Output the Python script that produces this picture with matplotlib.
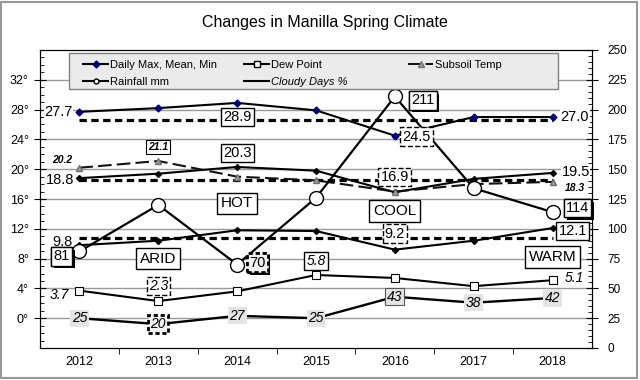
import matplotlib
matplotlib.use("Agg")
from matplotlib import pyplot as plt
from matplotlib.ticker import MultipleLocator, FixedLocator
from matplotlib.lines import Line2D
from matplotlib.patches import Rectangle
from matplotlib.legend import Legend
import matplotlib.patheffects as pe

plt.rcParams['font.family'] = ['Liberation Sans', 'DejaVu Sans']

# 数据
years = [2012, 2013, 2014, 2015, 2016, 2017, 2018]
daily_max = [27.7, 28.2, 28.9, 27.9, 24.5, 27.0, 27.0]
daily_mean = [18.8, 19.4, 20.3, 19.8, 16.9, 18.7, 19.5]
daily_min = [9.8, 10.4, 11.8, 11.7, 9.2, 10.4, 12.1]
dew_point = [3.7, 2.3, 3.6, 5.8, 5.4, 4.3, 5.1]
subsoil = [20.2, 21.1, 19.0, 18.5, 17.0, 18.0, 18.3]
rainfall = [81, 120, 70, 126, 211, 134, 114]
cloudy = [25, 20, 27, 25, 43, 38, 42]
# 长期平均
avg_max, avg_mean, avg_min = 26.6, 18.6, 10.7

fig = plt.figure(figsize=(6.4, 3.8), dpi=100)
ax = fig.add_axes([40 / 640, 1 - 348 / 380, 552 / 640, 298 / 380])
ax2 = ax.twinx()

ax.set_xlim(2011.5, 2018.5)
ax.set_ylim(-4, 36)
ax2.set_ylim(0, 250)

# 刻度
ax.set_xticks(years)
ax.set_xticklabels([str(y) for y in years])
ax.xaxis.set_minor_locator(FixedLocator([y + 0.5 for y in years[:-1]]))
ax.tick_params(axis='x', which='major', length=0, labelsize=9, pad=6)
ax.tick_params(axis='x', which='minor', direction='out', length=4)

ax.set_yticks(range(0, 33, 4))
ax.set_yticklabels(["{}°".format(v) for v in range(0, 33, 4)])
ax.yaxis.set_minor_locator(MultipleLocator(1))
ax.tick_params(axis='y', which='major', direction='inout', length=8, labelsize=9, pad=4)
ax.tick_params(axis='y', which='minor', direction='in', length=3)

ax2.set_yticks(range(0, 251, 25))
ax2.yaxis.set_minor_locator(MultipleLocator(5))
ax2.tick_params(axis='y', which='major', direction='inout', length=8, labelsize=8.5, pad=7)
ax2.tick_params(axis='y', which='minor', direction='in', length=3)

ax.grid(axis='y', which='major', color='#999999', lw=1)
ax.set_axisbelow(True)

# 温度
ax.hlines([avg_max, avg_mean, avg_min], years[0], years[-1], colors='black',
          lw=2.3, linestyles=(0, (2.3, 1.4)), zorder=3)
ax.plot(years, daily_max, color='black', lw=1.5, marker='D', ms=3.5,
        mfc='#000080', mec='#000080', zorder=4)
ax.plot(years, daily_mean, color='black', lw=1.5, marker='D', ms=3,
        mfc='black', mec='black', zorder=4)
ax.plot(years, daily_min, color='black', lw=1.5, marker='D', ms=3,
        mfc='black', mec='black', zorder=4)
ax.plot(years, subsoil, color='#111111', lw=1.5, dashes=(6.5, 2.5), marker='^',
        ms=4.5, mfc='#a0a0a0', mec='#707070', zorder=4)
ax.plot(years, dew_point, color='black', lw=1.5, marker='s', ms=6,
        mfc='white', mec='black', mew=0.8, zorder=4)

# 降雨和云量
ax2.plot(years, rainfall, color='black', lw=1.6, marker='o', ms=10,
         mfc='white', mec='black', mew=1, zorder=4)
ax2.plot(years, cloudy, color='black', lw=1.7, zorder=4)

solid = dict(boxstyle='square,pad=0.15', fc='white', ec='black', lw=1)
dashed = dict(boxstyle='square,pad=0.15', fc='white', ec='black', lw=1, ls='--')
thick = dict(boxstyle='square,pad=0.15', fc='#f2f2f2', ec='black', lw=2, ls=(0, (1.5, 1)))
plain = dict(boxstyle='square,pad=0.05', fc='white', ec='none')
gray = dict(boxstyle='square,pad=0.12', fc='#e4e4e4', ec='none')
gray_b = dict(boxstyle='square,pad=0.12', fc='#e4e4e4', ec='#555555', lw=0.8)


def label(tr, x, y, s, dx, dy, size=10.5, style='normal', weight='normal',
          box=None, shadow=False):
    t = ax2.annotate(s, xy=(x, y), xycoords=tr, xytext=(dx, -dy),
                     textcoords='offset pixels', ha='center', va='center',
                     fontsize=size, fontstyle=style, fontweight=weight,
                     bbox=box, zorder=6)
    if shadow:
        t.get_bbox_patch().set_path_effects(
            [pe.withSimplePatchShadow(offset=(2, -2), shadow_rgbFace='black', alpha=1),
             pe.Normal()])
    return t


T = ax.transData
R = ax2.transData

# 最高
label(T, years[0], daily_max[0], "27.7", -21, 0, box=plain)
label(T, years[2], daily_max[2], "28.9", 0, 14, box=solid)
label(T, years[4], daily_max[4], "24.5", 22, 1, box=dashed)
label(T, years[6], daily_max[6], "27.0", 22, 0, box=plain)
# 平均
label(T, years[0], daily_mean[0], "18.8", -19, 2, box=plain)
label(T, years[2], daily_mean[2], "20.3", 0, -14, box=solid)
label(T, years[4], daily_mean[4], "16.9", 0, -15, box=dashed)
label(T, years[6], daily_mean[6], "19.5", 23, -1, box=plain)
# 最低
label(T, years[0], daily_min[0], "9.8", -17, -3, box=plain)
label(T, years[4], daily_min[4], "9.2", 0, -16, box=dashed)
label(T, years[6], daily_min[6], "12.1", 20, 3, box=solid)
# 地温
label(T, years[0], subsoil[0], "20.2", -17, -8, size=7.5, style='italic', weight='bold')
label(T, years[1], subsoil[1], "21.1", 0, -14, size=7.5, style='italic', weight='bold',
      box=dict(boxstyle='square,pad=0.2', fc='white', ec='black', lw=0.8))
label(T, years[6], subsoil[6], "18.3", 22, 6, size=7.5, style='italic', weight='bold')
# 露点
label(T, years[0], dew_point[0], "3.7", -20, 4, size=10, style='italic')
label(T, years[1], dew_point[1], "2.3", 0, -15, size=10, style='italic', box=dashed)
label(T, years[3], dew_point[3], "5.8", 0, -14, size=10, style='italic', box=solid)
label(T, years[6], dew_point[6], "5.1", 22, -2, size=10, style='italic')
# 降雨
label(R, years[0], rainfall[0], "81", -18, 5, box=solid, shadow=True)
label(R, years[2], rainfall[2], "70", 20, -2, box=thick, shadow=True)
label(R, years[4], rainfall[4], "211", 28, 4, box=solid, shadow=True)
label(R, years[6], rainfall[6], "114", 25, -4, box=solid, shadow=True)
# 云量
for i, c in enumerate(cloudy):
    b = gray
    if i == 1:
        b = thick
    elif i == 4:
        b = gray_b
    label(R, years[i], c, str(c), 0, 0, size=10, style='italic', box=b)

# 文字框
big = dict(boxstyle='square,pad=0.25', fc='white', ec='black', lw=1)
ax2.text(2014, 15.4, "HOT", transform=T, ha='center', va='center', fontsize=11, bbox=big, zorder=6)
ax2.text(2016, 14.4, "COOL", transform=T, ha='center', va='center', fontsize=11, bbox=big, zorder=6)
ax2.text(2013, 8.0, "ARID", transform=T, ha='center', va='center', fontsize=11, bbox=big, zorder=6)
ax2.text(2018, 8.2, "WARM", transform=T, ha='center', va='center', fontsize=11, bbox=big, zorder=6)

# 图例
ax2.add_patch(Rectangle((0.0525, 0.869), 0.8855, 0.121, transform=ax2.transAxes,
                        fc='#ebebeb', ec='#808080', lw=1, zorder=7))
h_max = Line2D([], [], color='black', lw=1.5, marker='D', ms=3.5, mfc='#000080', mec='#000080')
h_rain = Line2D([], [], color='black', lw=1.5, marker='o', ms=3.5, mfc='white', mec='black')
h_dew = Line2D([], [], color='black', lw=1.5, marker='s', ms=4.5, mfc='white', mec='black')
h_cloud = Line2D([], [], color='black', lw=1.5)
h_soil = Line2D([], [], color='#111111', lw=1.4, dashes=(6.5, 2.5), marker='^', ms=4,
                mfc='#a0a0a0', mec='#707070')

columns = [([h_max, h_rain], ["Daily Max, Mean, Min", "Rainfall mm"], 0.0779),
           ([h_dew, h_cloud], ["Dew Point", "Cloudy Days %"], 0.3696),
           ([h_soil], ["Subsoil Temp"], 0.6667)]
for hs, ls, x in columns:
    leg = Legend(ax2, hs, ls, loc='upper left', bbox_to_anchor=(x, 0.968), frameon=False,
                 fontsize=8, borderpad=0, borderaxespad=0, handlelength=2.25,
                 handletextpad=0.15, labelspacing=0.7)
    leg.set_zorder(8)
    for t in leg.get_texts():
        if t.get_text() == "Cloudy Days %":
            t.set_fontstyle('italic')
    ax2.add_artist(leg)

fig.text(0.508, 1 - 22 / 380, "Changes in Manilla Spring Climate", ha='center',
         va='center', fontsize=11.5)
fig.patches.append(Rectangle((0.002, 0.004), 0.994, 0.99, transform=fig.transFigure,
                             fill=False, ec='#999999', lw=1.5))

fig.savefig("out.png", dpi=100)
